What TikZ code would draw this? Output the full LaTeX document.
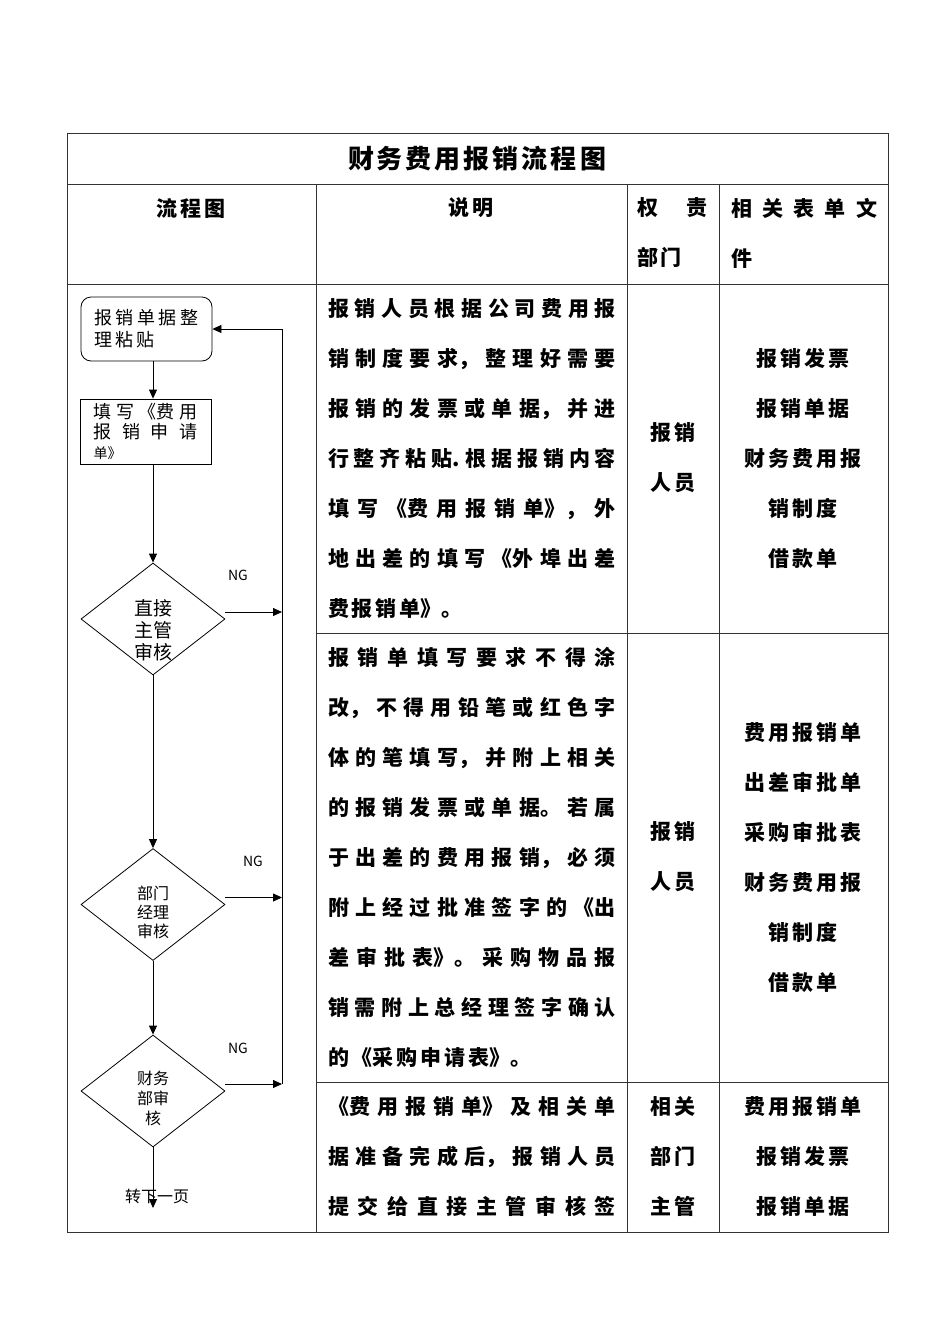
\documentclass[tikz,border=0pt]{standalone}
\usepackage{fontspec}
\setmainfont{Noto Sans CJK SC}
\usetikzlibrary{arrows.meta,positioning,shapes.geometric}
\XeTeXlinebreaklocale "zh"
\XeTeXlinebreakskip=3pt plus 30pt
\newcommand\fixedgap{\XeTeXlinebreakskip 3pt\relax}
\newcommand\stretchgap{\XeTeXlinebreakskip 3pt plus 30pt\relax}
\begin{document}
\begin{tikzpicture}[x=1pt,y=-1pt,
    tline/.style={draw=black!80,line width=0.9pt},
    fline/.style={draw=black,line width=0.8pt},
    arr/.style={fline,-{Triangle[length=9pt,width=8pt]}},
    cell/.style={inner sep=0pt,text width=160pt,align=center,font=\fontsize{21}{50}\selectfont\bfseries\fixedgap},
    desc/.style={cell,text width=288pt,align=justify,font=\fontsize{21}{50}\selectfont\bfseries\stretchgap},
    roundbox/.style={fline,rounded corners=10pt,text width=104pt,inner xsep=13.5pt,inner ysep=0pt,minimum height=64pt,align=justify,font=\fontsize{18}{22}\selectfont},
    flowbox/.style={roundbox,rounded corners=0pt,minimum height=65pt,font=\fontsize{18}{20}\selectfont},
    decision/.style={diamond,fline,minimum width=144pt,minimum height=112pt,inner sep=0pt},
    dtext/.style={align=center,inner sep=0pt},
    nglabel/.style={font=\fontsize{14}{14}\selectfont}]
  \useasboundingbox (0,0) rectangle (950,1344);
  % table grid
  \draw[tline] (67,133) rectangle (888,1232);
  \draw[tline] (67,184) -- (888,184);
  \draw[tline] (67,284) -- (888,284);
  \foreach \yy in {633,1082}{\draw[tline] (316,\yy) -- (888,\yy);}
  \foreach \xx in {316,627,719}{\draw[tline] (\xx,184) -- (\xx,1232);}
  % title and header
  \node[cell,text width=400pt,font=\fontsize{26}{30}\selectfont\bfseries\fixedgap] (title) at (477,159) {财务费用报销流程图};
  \node[cell] (hflow) at (191,208) {流程图};
  \node[cell] (hdesc) at (471,208) {说明};
  \node[desc,text width=70pt] (hdept) at (672,233) {权责\linebreak 部门};
  \node[desc,text width=146pt] (hform) at (804,233) {相关表单文\linebreak 件};
  % description column
  \node[desc] (desc1) at (472,459) {报销人员根据公司费用报\linebreak 销制度要求，整理好需要\linebreak 报销的发票或单据，并进\linebreak 行整齐粘贴.根据报销内容\linebreak 填写《费用报销单》，外\linebreak 地出差的填写《外埠出差\linebreak 费报销单》。};
  \node[desc] (desc2) at (472,857.5) {报销单填写要求不得涂\linebreak 改，不得用铅笔或红色字\linebreak 体的笔填写，并附上相关\linebreak 的报销发票或单据。若属\linebreak 于出差的费用报销，必须\linebreak 附上经过批准签字的《出\linebreak 差审批表》。采购物品报\linebreak 销需附上总经理签字确认\linebreak 的《采购申请表》。};
  \node[desc] (desc3) at (472,1157) {《费用报销单》及相关单\linebreak 据准备完成后，报销人员\linebreak 提交给直接主管审核签\parfillskip=0pt\par};
  % department column
  \node[cell] (dept1) at (673,458) {报销\\人员};
  \node[cell] (dept2) at (673,857) {报销\\人员};
  \node[cell] (dept3) at (673,1157) {相关\\部门\\主管};
  % forms column
  \node[cell] (form1) at (803,458.5) {报销发票\\报销单据\\财务费用报\\销制度\\借款单};
  \node[cell] (form2) at (803,857.5) {费用报销单\\出差审批单\\采购审批表\\财务费用报\\销制度\\借款单};
  \node[cell] (form3) at (803,1157) {费用报销单\\报销发票\\报销单据};
  % flow chart
  \node[roundbox] (b1) at (146.5,329) {报销单据整\linebreak 理粘贴};
  \node[flowbox] (b2) at (145.5,431.5) {填写《费用\linebreak 报销申请\linebreak{\fontsize{14}{16}\selectfont 单》}};
  \node[decision,label={[dtext,yshift=-11pt,font=\fontsize{19}{22}\selectfont]center:{直接\\主管\\审核}}] (d1) at (153,619) {};
  \node[decision,label={[dtext,yshift=-7.5pt,font=\fontsize{16}{19}\selectfont]center:{部门\\经理\\审核}}] (d2) at (153,904.5) {};
  \node[decision,label={[dtext,yshift=-7.5pt,font=\fontsize{16}{20}\selectfont]center:{财务\\部审\\核}}] (d3) at (153,1091) {};
  \node[font=\fontsize{16}{16}\selectfont] (nxt) at (157,1196) {转下一页};
  \coordinate (rtop) at (282,329);
  \coordinate (rbot) at (282,1084);
  \coordinate (nextpg) at (153,1208);
  \draw[arr] (b1.south -| d1.north) -- (b2.north -| d1.north);
  \draw[arr] (b2.south -| d1.north) -- (d1.north);
  \foreach \src/\dst in {d1/d2,d2/d3,d3/nextpg}{\draw[arr] (\src) -- (\dst);}
  \foreach \dn/\lx/\ly in {d1/238/575,d2/253/861,d3/238/1048}{
    \draw[arr] ([yshift=7pt]\dn.east) -- ([yshift=7pt]\dn.east -| rtop);
    \node[nglabel] (ng\dn) at (\lx,\ly) {NG};
  }
  \draw[arr] (rbot) -- (rtop) -- (b1.east);
\end{tikzpicture}
\end{document}
